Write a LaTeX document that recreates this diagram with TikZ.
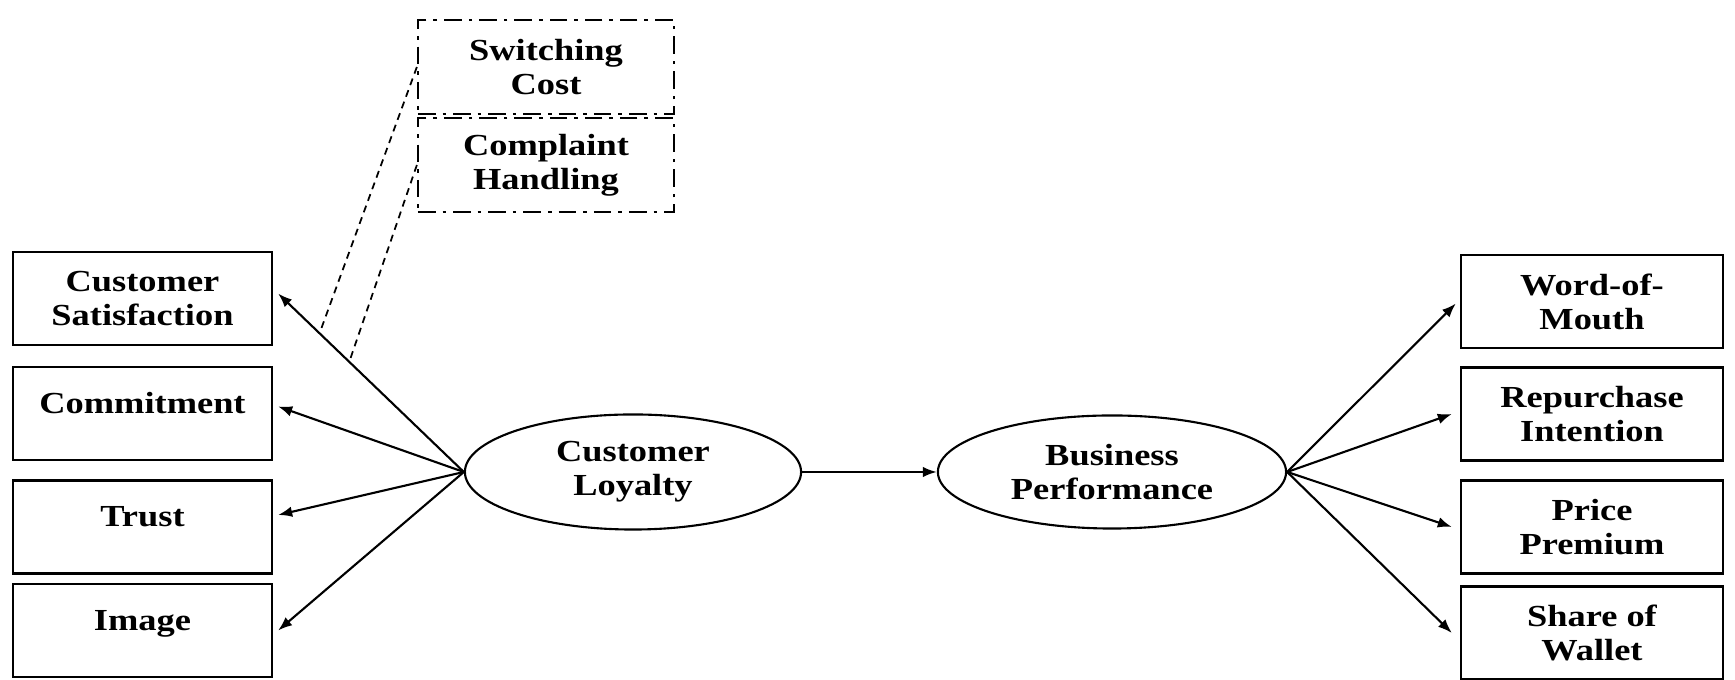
\documentclass[tikz,border=0pt]{standalone}
\usepackage{fontspec}
\setmainfont{Liberation Serif}[FakeStretch=1.19]
\usetikzlibrary{arrows.meta,shapes.geometric,calc}

\begin{document}
\begin{tikzpicture}[x=0.01cm, y=-0.01cm,
    lbl/.style={font=\fontsize{8.7}{9.7}\selectfont\bfseries},
    box/.style={rectangle, draw, line width=0.6pt, minimum width=2.59cm, minimum height=0.93cm, align=center, lbl},
    onebox/.style={box, text height=2mm, text depth=2mm},
    modbox/.style={box, dash pattern=on 5pt off 2pt on 1pt off 2pt, minimum width=2.56cm, minimum height=0.94cm},
    latent/.style={ellipse, draw, line width=0.6pt, align=center, inner sep=0pt, lbl},
    arr/.style={-{Latex[length=4pt,width=3pt]}, line width=0.6pt}]
    \useasboundingbox (0,0) rectangle (1735,680);

    \node[modbox] (swc) at (546,67) {Switching\\Cost};
    \node[modbox] (cmh) at (546,165) {Complaint\\Handling};

    \node[box] (sat) at (142.5,298.5) {Customer\\Satisfaction};
    \node[onebox] (com) at (142.5,413.5) {Commitment};
    \node[onebox] (tru) at (142.5,527) {Trust};
    \node[onebox] (img) at (142.5,630.5) {Image};

    \node[latent, minimum width=3.36cm, minimum height=1.15cm] (loy) at (633,472) {Customer\\Loyalty};
    \node[latent, minimum width=3.48cm, minimum height=1.13cm] (bus) at (1112,472) {Business\\Performance};

    \node[box, minimum width=2.62cm] (wom) at (1592,301.5) {Word-of-\\Mouth};
    \node[box, minimum width=2.62cm] (rep) at (1592,414) {Repurchase\\Intention};
    \node[box, minimum width=2.62cm] (pri) at (1592,527) {Price\\Premium};
    \node[box, minimum width=2.62cm] (sha) at (1592,633) {Share of\\Wallet};

    \draw[arr] (loy.west) -- coordinate[pos=0.777] (m1) coordinate[pos=0.617] (m2) ($(sat.east)+(5,-5)$);
    \draw[arr] (loy.west) -- ($(com.east)+(5,-7)$);
    \draw[arr] (loy.west) -- ($(tru.east)+(5,-12)$);
    \draw[arr] (loy.west) -- ($(img.east)+(5,0)$);

    \draw[dash pattern=on 2pt off 1.5pt, line width=0.5pt] (swc.west) -- (m1);
    \draw[dash pattern=on 2pt off 1.5pt, line width=0.5pt] (cmh.west) -- (m2);

    \draw[arr] (loy.east) -- (bus.west);

    \draw[arr] (bus.east) -- ($(wom.west)+(-4,2)$);
    \draw[arr] (bus.east) -- ($(rep.west)+(-8,0)$);
    \draw[arr] (bus.east) -- ($(pri.west)+(-8,0)$);
    \draw[arr] (bus.east) -- ($(sha.west)+(-8,0)$);
\end{tikzpicture}
\end{document}
